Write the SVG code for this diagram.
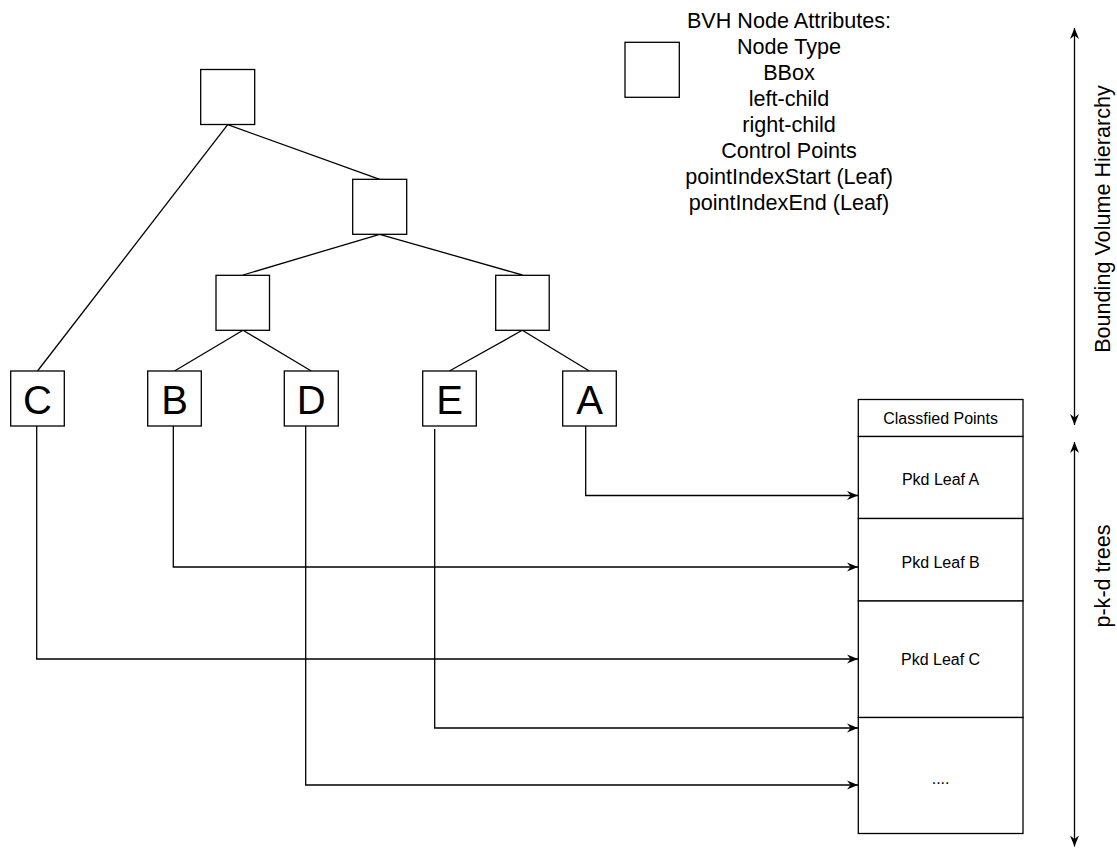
<svg xmlns="http://www.w3.org/2000/svg" width="1117" height="848" viewBox="0 0 1117 848">
<style>
.box{fill:#fff;stroke:#000;stroke-width:1.3}
.ln{fill:none;stroke:#000;stroke-width:1.3}
.t{font-family:"Liberation Sans",Arial,sans-serif;fill:#000;text-anchor:middle;dominant-baseline:central}
.leaf{font-size:40px}
.tbl{font-size:16px}
.leg{font-size:21.6px}
</style>
<defs>
<marker id="arr" markerWidth="12" markerHeight="10" refX="11" refY="5" orient="auto" markerUnits="userSpaceOnUse">
<path d="M0,0.5 L11,5 L0,9.5 L3.5,5 Z" fill="#000"/>
</marker>
<marker id="arrS" markerWidth="12" markerHeight="10" refX="11" refY="5" orient="auto-start-reverse" markerUnits="userSpaceOnUse">
<path d="M0,0.5 L11,5 L0,9.5 L3.5,5 Z" fill="#000"/>
</marker>
</defs>
<g id="connectors">
<line class="ln" x1="227.7" y1="124.7" x2="37.5" y2="371"/>
<line class="ln" x1="227.7" y1="124.7" x2="379.7" y2="179.3"/>
<line class="ln" x1="379.7" y1="234.3" x2="243" y2="275"/>
<line class="ln" x1="379.7" y1="234.3" x2="522.3" y2="275"/>
<line class="ln" x1="243" y1="330.3" x2="174.5" y2="371"/>
<line class="ln" x1="243" y1="330.3" x2="311.3" y2="371"/>
<line class="ln" x1="522.3" y1="330.3" x2="449.4" y2="371"/>
<line class="ln" x1="522.3" y1="330.3" x2="589.3" y2="371"/>
<path class="ln" d="M585.7,426 V495.5 H858" marker-end="url(#arr)"/>
<path class="ln" d="M173.3,426 V567 H858" marker-end="url(#arr)"/>
<path class="ln" d="M36.7,426 V659 H858" marker-end="url(#arr)"/>
<path class="ln" d="M434.7,429 V728 H858" marker-end="url(#arr)"/>
<path class="ln" d="M305.7,426 V785 H858" marker-end="url(#arr)"/>
<line class="ln" x1="1074.5" y1="28" x2="1074.5" y2="425" marker-start="url(#arrS)" marker-end="url(#arr)"/>
<line class="ln" x1="1074.5" y1="442" x2="1074.5" y2="846.5" marker-start="url(#arrS)" marker-end="url(#arr)"/>
</g>
<g id="root"><rect class="box" x="200.7" y="69.5" width="54" height="55"/></g>
<g id="n2"><rect class="box" x="352.7" y="179.3" width="54" height="55"/></g>
<g id="n3l"><rect class="box" x="216" y="275.3" width="53.5" height="55"/></g>
<g id="n3r"><rect class="box" x="495.7" y="275.3" width="53.5" height="55"/></g>
<g id="leafC"><rect class="box" x="10.7" y="371" width="53.6" height="55"/><text class="t leaf" x="37.5" y="399.5">C</text></g>
<g id="leafB"><rect class="box" x="147.7" y="371" width="53.6" height="55"/><text class="t leaf" x="174.5" y="399.5">B</text></g>
<g id="leafD"><rect class="box" x="284.3" y="371" width="54" height="55"/><text class="t leaf" x="311.3" y="399.5">D</text></g>
<g id="leafE"><rect class="box" x="422.7" y="371" width="53.6" height="55"/><text class="t leaf" x="449.5" y="399.5">E</text></g>
<g id="leafA"><rect class="box" x="562.7" y="371" width="53.6" height="55"/><text class="t leaf" x="589.5" y="399.5">A</text></g>
<g id="legend">
<rect class="box" x="625" y="42.3" width="54.3" height="55"/>
<text class="t leg" x="789" y="20.7">BVH Node Attributes:</text>
<text class="t leg" x="789" y="46.6">Node Type</text>
<text class="t leg" x="789" y="72.5">BBox</text>
<text class="t leg" x="789" y="98.4">left-child</text>
<text class="t leg" x="789" y="124.3">right-child</text>
<text class="t leg" x="789" y="150.2">Control Points</text>
<text class="t leg" x="789" y="176.1">pointIndexStart (Leaf)</text>
<text class="t leg" x="789" y="202">pointIndexEnd (Leaf)</text>
</g>
<g id="table">
<rect class="box" x="858.3" y="399.5" width="164.7" height="37"/>
<rect class="box" x="858.3" y="436.5" width="164.7" height="82"/>
<rect class="box" x="858.3" y="518.5" width="164.7" height="82.5"/>
<rect class="box" x="858.3" y="601" width="164.7" height="116.5"/>
<rect class="box" x="858.3" y="717.5" width="164.7" height="116"/>
<text class="t tbl" x="940.6" y="418">Classfied Points</text>
<text class="t tbl" x="940.6" y="479">Pkd Leaf A</text>
<text class="t tbl" x="940.6" y="562">Pkd Leaf B</text>
<text class="t tbl" x="940.6" y="659">Pkd Leaf C</text>
<text class="t tbl" x="940.6" y="778">....</text>
</g>
<g id="labels">
<text class="t leg" transform="translate(1102,219) rotate(-90)">Bounding Volume Hierarchy</text>
<text class="t leg" transform="translate(1102,576) rotate(-90)">p-k-d trees</text>
</g>
</svg>
